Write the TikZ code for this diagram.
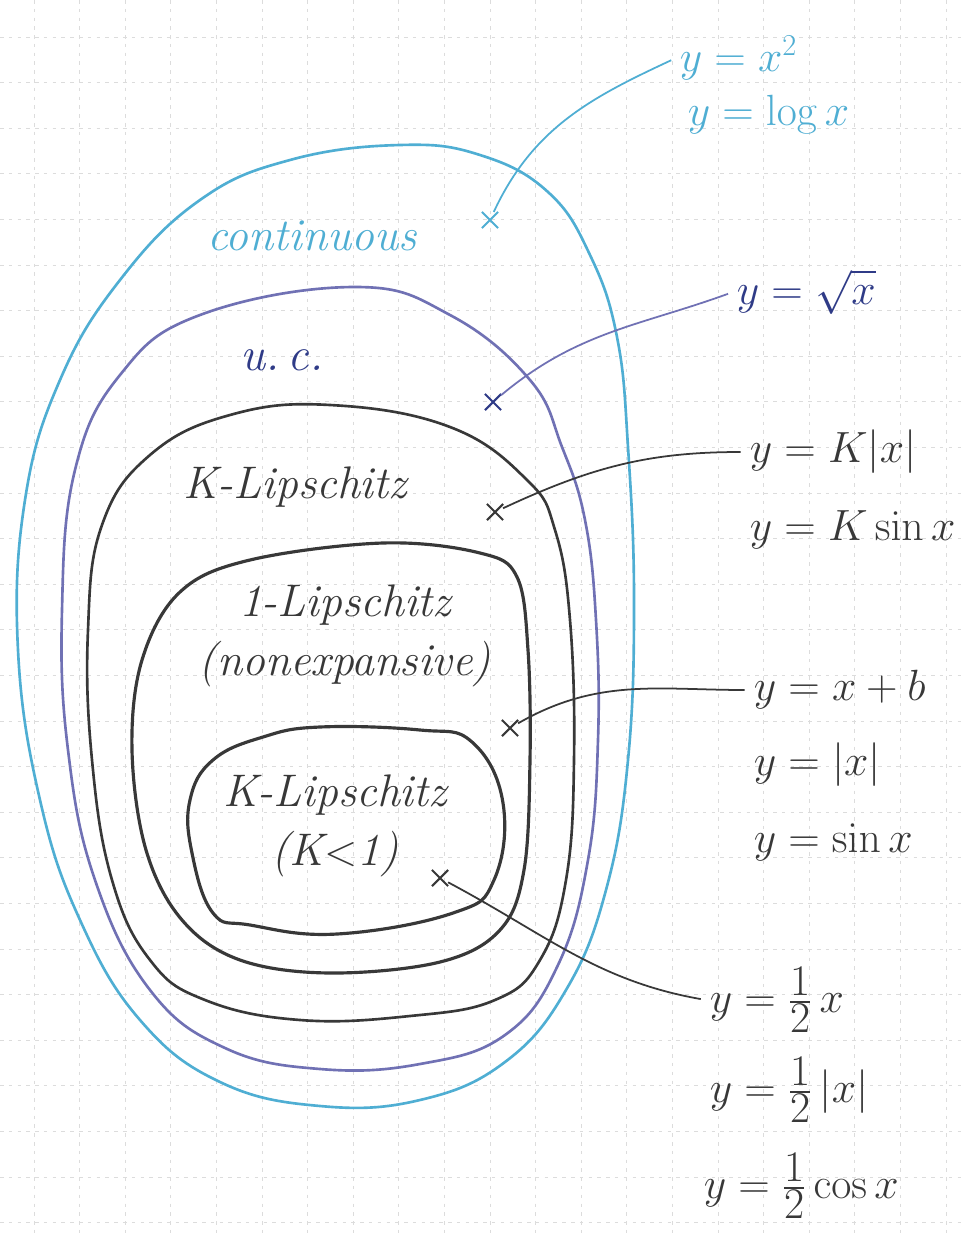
\documentclass[tikz,border=0pt]{standalone}
\usepackage{amsmath}
\usepackage{tikz}
\usetikzlibrary{positioning,shapes.misc}

\definecolor{contblue}{HTML}{4FAED3}
\definecolor{ucblue}{HTML}{7071B4}
\definecolor{ucdark}{HTML}{2F3B87}
\definecolor{inkgray}{HTML}{383838}
\definecolor{gridgray}{HTML}{DCDCDC}

\newcommand{\halfex}{{\frac{\textstyle 1}{\textstyle 2}}}

\begin{document}
\begin{tikzpicture}[x=0.02cm,y=-0.02cm,
    blobline/.style={line width=1.5pt,line join=round},
    xmark/.style={cross out,draw,line width=1.2pt,minimum size=8pt,inner sep=0pt},
    leader/.style={line width=1pt,shorten >=3pt},
    setname/.style={font=\fontsize{26}{34}\selectfont\itshape,align=center},
    formula/.style={anchor=west,inner sep=2pt,font=\fontsize{24}{28}\selectfont},
    gridline/.style={gridgray,line width=0.4pt,dash pattern=on 2pt off 3pt}
]
\useasboundingbox (0,0) rectangle (963,1237);
\fill[white] (0,0) rectangle (963,1237);

% paper grid
\foreach \i in {0,...,20}
    \draw[gridline] (34+45.6*\i,0) -- (34+45.6*\i,1237);
\foreach \j in {0,...,26}
    \draw[gridline] (0,37+45.6*\j) -- (963,37+45.6*\j);

% nested sets
\draw[blobline,contblue] plot[smooth cycle,tension=0.7] coordinates {
    (400,145) (480,155) (548,192) (590,255) (617,337) (628,447) (634,600)
    (628,760) (606,890) (566,990) (505,1062) (420,1100) (320,1106)
    (220,1082) (140,1020) (80,920) (40,800) (18,650) (25,500) (60,380)
    (120,280) (200,200) (290,160)};
\draw[blobline,ucblue] plot[smooth cycle,tension=0.7] coordinates {
    (355,287) (450,315) (530,380) (562,447) (585,520) (596,620) (598,740)
    (588,860) (558,965) (505,1035) (420,1064) (320,1069) (225,1048)
    (150,990) (95,880) (68,750) (62,610) (75,470) (120,375) (200,315)};
\draw[blobline,inkgray] plot[smooth cycle,tension=0.7] coordinates {
    (330,405) (450,427) (527,480) (555,530) (570,620) (574,760) (566,880)
    (540,960) (495,1000) (410,1016) (300,1020) (205,1000) (150,960)
    (112,880) (92,760) (88,630) (102,525) (150,455) (230,415)};
\draw[blobline,inkgray,line width=1.8pt] plot[smooth cycle,tension=0.6] coordinates {
    (383,543) (480,553) (517,577) (528,650) (530,760) (524,870) (500,930)
    (440,962) (330,973) (240,960) (182,920) (146,850) (132,750) (142,660)
    (180,592) (250,560)};
\draw[blobline,inkgray,line width=1.8pt] plot[smooth cycle,tension=0.7] coordinates {
    (320,727) (420,730) (472,742) (503,803) (494,880) (453,913) (337,934)
    (250,925) (213,913) (192,853) (190,800) (213,760) (263,737)};

% set names
\node[setname,contblue] (cont) at (312,236) {continuous};
\node[setname,ucdark,font=\fontsize{27}{30}\selectfont\itshape] (uc) at (282,360) {u.\,c.};
\node[setname,inkgray] (klip) at (295,487) {K-Lipschitz};
\node[setname,inkgray] (onelip) at (345,636) {1-Lipschitz\\(nonexpansive)};
\node[setname,inkgray] (contr) at (335,826) {K-Lipschitz\\(K$<$1)};

% example points
\node[xmark,contblue] (c1) at (490,220) {};
\node[xmark,ucdark] (c2) at (493,402) {};
\node[xmark,inkgray] (c3) at (495,512) {};
\node[xmark,inkgray] (c4) at (510,728) {};
\node[xmark,inkgray] (c5) at (440,878) {};

% examples
\node[formula,contblue] (sq)   at (676,58)   {$y=x^2$};
\node[formula,contblue] (lg)   at (684,115)  {$y=\log x$};
\node[formula,ucdark]   (rt)   at (733,292)  {$y=\sqrt{x}$};
\node[formula,inkgray]  (kab)  at (746,452)  {$y=K|x|$};
\node[formula,inkgray]  (ksin) at (746,530)  {$y=K\sin x$};
\node[formula,inkgray]  (lin)  at (750,690)  {$y=x+b$};
\node[formula,inkgray]  (ab)   at (750,765)  {$y=|x|$};
\node[formula,inkgray]  (sn)   at (750,842)  {$y=\sin x$};
\node[formula,inkgray]  (hx)   at (706,1000) {$y=\halfex\,x$};
\node[formula,inkgray]  (hab)  at (706,1090) {$y=\halfex\,|x|$};
\node[formula,inkgray]  (hcos) at (700,1186) {$y=\halfex\cos x$};

\draw[leader,contblue] (c1) to[out=65,in=205] (sq.west);
\draw[leader,ucblue] (c2) to[out=40,in=200] (rt.west);
\draw[leader,inkgray] (c3) to[out=25,in=180] (kab.west);
\draw[leader,inkgray] (c4) to[out=30,in=180] (lin.west);
\draw[leader,inkgray] (c5) to[out=-28,in=170] (hx.west);
\end{tikzpicture}
\end{document}
